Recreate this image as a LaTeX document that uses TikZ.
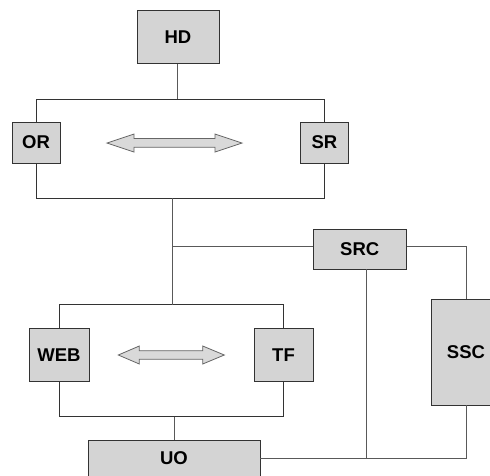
\documentclass[tikz,border=0pt]{standalone}
\usepackage{fontspec}
\setmainfont{Liberation Sans}
\begin{document}
\begin{tikzpicture}[x=1pt,y=-1pt,
  box/.style={draw=black!80,fill=black!17,line width=0.9pt,inner sep=0pt,
    font=\fontsize{18.5}{18.5}\selectfont\bfseries},
  frame/.style={draw=black!80,line width=0.9pt},
  wire/.style={draw=black!65,line width=1pt},
  dblarrow/.style={draw=black!60,fill=black!15,line width=0.8pt}]
\clip (0,0) rectangle (490,475);
\fill[white] (0,0) rectangle (490,475);
% containers
\draw[frame] (36,99) rectangle (324.5,198.3);
\draw[frame] (59,304.5) rectangle (283.5,416.7);
\coordinate (topN) at (177,99);
\coordinate (topS) at (172,198.3);
\coordinate (lowN) at (172,304.5);
\coordinate (lowS) at (174,416.7);
% nodes
\node[box,minimum width=82,minimum height=53] (HD) at (178,36.7) {HD};
\node[box,minimum width=48,minimum height=41] (OR) at (36,142.5) {OR};
\node[box,minimum width=48,minimum height=41] (SR) at (324.5,142.5) {SR};
\node[box,minimum width=93,minimum height=40] (SRC) at (359.7,249) {SRC};
\node[box,minimum width=70,minimum height=106] (SSC) at (466,352) {SSC};
\node[box,minimum width=60,minimum height=53] (WEB) at (59,355) {WEB};
\node[box,minimum width=59,minimum height=53] (TF) at (283.5,355) {TF};
\node[box,minimum width=172,minimum height=36] (UO) at (174,458) {UO};
% double arrows
\draw[dblarrow] (107,143) -- (134,134) -- (134,138.5) -- (215,138.5) -- (215,134)
  -- (242,143) -- (215,152) -- (215,147.3) -- (134,147.3) -- (134,152) -- cycle;
\draw[dblarrow] (118.3,355) -- (139.3,346) -- (139.3,350.7) -- (202.7,350.7) -- (202.7,346)
  -- (224.3,355) -- (202.7,364) -- (202.7,359.3) -- (139.3,359.3) -- (139.3,364) -- cycle;
% connectors
\coordinate (J) at (172,246.3);
\coordinate (R) at (466,246.3);
\coordinate (B) at (466,458);
\coordinate (S) at (366,458);
\draw[wire] (HD.south -| topN) -- (topN);
\draw[wire] (topS) -- (lowN);
\draw[wire] (J) -- (J -| SRC.west);
\draw[wire] (SRC.east |- R) -- (R) -- (SSC.north);
\draw[wire] (SSC.south) -- (B) -- (UO.east |- B);
\draw[wire] (S |- SRC.south) -- (S);
\draw[wire] (lowS) -- (UO.north -| lowS);
\end{tikzpicture}
\end{document}
